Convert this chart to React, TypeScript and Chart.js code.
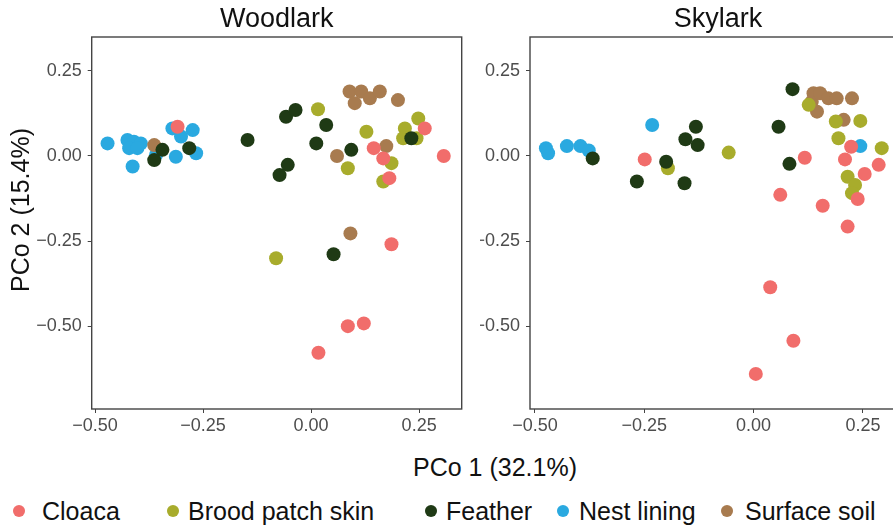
import React, { useEffect, useRef } from 'react';
import { Chart, registerables } from 'chart.js';

Chart.register(...registerables);

const FONT = "'Liberation Sans', Arial, Helvetica, sans-serif";

const groupNames = ['Cloaca', 'Brood patch skin', 'Feather', 'Nest lining', 'Surface soil'];
const groupColors = ['#F16D6B', '#A8AC2C', '#1F3A15', '#2AA9E0', '#A87B4F'];
const drawOrder = [0, 2, 1, 4, 3];

const xTickValues = [-0.5, -0.25, 0, 0.25];
const yTickValues = [0.25, 0, -0.25, -0.5];

const xAxisTitle = 'PCo 1 (32.1%)';
const yAxisTitle = 'PCo 2 (15.4%)';
const panelTitles = ['Woodlark', 'Skylark'];

// Woodlark
const woodlarkCloacaX = [-0.309, 0.263, 0.307, 0.145, 0.167, 0.181, 0.186, 0.085, 0.122, 0.017];
const woodlarkCloacaY = [0.086, 0.081, 0.0, 0.023, -0.007, -0.065, -0.259, -0.499, -0.491, -0.577];
const woodlarkBroodX = [0.016, 0.128, 0.085, 0.217, 0.248, 0.213, 0.244, 0.186, 0.167, -0.081];
const woodlarkBroodY = [0.137, 0.071, -0.036, 0.081, 0.11, 0.052, 0.052, -0.021, -0.075, -0.3];
const woodlarkFeatherX = [-0.344, -0.363, -0.282, -0.147, -0.058, -0.036, 0.035, 0.012, -0.054, -0.073, 0.093, 0.232, 0.052];
const woodlarkFeatherY = [0.018, -0.012, 0.023, 0.047, 0.115, 0.135, 0.091, 0.037, -0.026, -0.056, 0.018, 0.052, -0.288];
const woodlarkNestX = [-0.471, -0.425, -0.41, -0.394, -0.421, -0.402, -0.413, -0.359, -0.313, -0.321, -0.301, -0.274, -0.266];
const woodlarkNestY = [0.037, 0.047, 0.042, 0.037, 0.023, 0.023, -0.031, 0.003, -0.002, 0.081, 0.057, 0.076, 0.008];
const woodlarkSoilX = [-0.363, 0.089, 0.116, 0.136, 0.159, 0.101, 0.201, 0.174, 0.06, 0.091];
const woodlarkSoilY = [0.032, 0.189, 0.189, 0.169, 0.189, 0.155, 0.164, 0.029, 0.0, -0.227];

// Skylark
const skylarkCloacaX = [-0.249, 0.117, 0.061, 0.158, 0.209, 0.223, 0.254, 0.286, 0.238, 0.215, 0.038, 0.091, 0.005];
const skylarkCloacaY = [-0.01, -0.005, -0.114, -0.146, -0.01, 0.027, -0.053, -0.026, -0.126, -0.207, -0.385, -0.542, -0.639];
const skylarkBroodX = [-0.196, -0.057, 0.126, 0.188, 0.244, 0.194, 0.293, 0.215, 0.232, 0.225];
const skylarkBroodY = [-0.036, 0.01, 0.15, 0.101, 0.103, 0.052, 0.023, -0.061, -0.085, -0.109];
const skylarkFeatherX = [-0.368, -0.267, -0.2, -0.158, -0.156, -0.132, -0.128, 0.057, 0.089, 0.082];
const skylarkFeatherY = [-0.007, -0.075, -0.017, -0.08, 0.049, 0.086, 0.032, 0.086, 0.196, -0.023];
const skylarkNestX = [-0.475, -0.47, -0.427, -0.396, -0.377, -0.232, 0.244];
const skylarkNestY = [0.023, 0.008, 0.029, 0.029, 0.016, 0.091, 0.029];
const skylarkSoilX = [0.133, 0.137, 0.152, 0.171, 0.19, 0.225, 0.145, 0.206];
const skylarkSoilY = [0.159, 0.184, 0.184, 0.169, 0.169, 0.169, 0.13, 0.106];

const woodlarkX = [woodlarkCloacaX, woodlarkBroodX, woodlarkFeatherX, woodlarkNestX, woodlarkSoilX];
const woodlarkY = [woodlarkCloacaY, woodlarkBroodY, woodlarkFeatherY, woodlarkNestY, woodlarkSoilY];
const skylarkX = [skylarkCloacaX, skylarkBroodX, skylarkFeatherX, skylarkNestX, skylarkSoilX];
const skylarkY = [skylarkCloacaY, skylarkBroodY, skylarkFeatherY, skylarkNestY, skylarkSoilY];

const fmt = (v: number) => {
  const s = Math.abs(v).toFixed(2);
  return v < -1e-9 ? '\u2212' + s : s;
};

const framePlugin = {
  id: 'panelFrame',
  afterDatasetsDraw(chart: any) {
    const { ctx, chartArea } = chart;
    ctx.save();
    ctx.strokeStyle = '#444444';
    ctx.lineWidth = 1.4;
    ctx.strokeRect(chartArea.left, chartArea.top, chartArea.right - chartArea.left, chartArea.bottom - chartArea.top);
    ctx.restore();
  },
};

const panelTextPlugin = {
  id: 'panelText',
  afterDraw(chart: any, _args: any, opts: any) {
    const { ctx, chartArea } = chart;
    ctx.save();
    ctx.font = `27px ${FONT}`;
    ctx.fillStyle = '#111111';
    ctx.textAlign = 'center';
    ctx.textBaseline = 'middle';
    ctx.fillText(opts.text, (chartArea.left + chartArea.right) / 2, 20);
    if (opts.yTitle) {
      ctx.font = `25px ${FONT}`;
      ctx.translate(22, 210);
      ctx.rotate(-Math.PI / 2);
      ctx.fillText(opts.yTitle, 0, 0);
    }
    ctx.restore();
  },
};

function buildConfig(
  title: string,
  xs: number[][],
  ys: number[][],
  yWidth: number,
  padRight: number,
  showYTitle: boolean,
  xMin: number,
  xMax: number
) {
  const datasets = groupNames.map((name, g) => ({
    label: name,
    data: xs[g].map((x, i) => ({ x, y: ys[g][i] })),
    backgroundColor: groupColors[g],
    borderWidth: 0,
    pointRadius: 7,
    pointHoverRadius: 7,
    order: drawOrder[g],
  }));
  return {
    type: 'scatter' as const,
    data: { datasets },
    plugins: [framePlugin, panelTextPlugin],
    options: {
      animation: false,
      responsive: false,
      devicePixelRatio: 1,
      events: [],
      layout: { padding: { top: 37, right: padRight, bottom: 0, left: 0 } },
      plugins: {
        legend: { display: false },
        tooltip: { enabled: false },
        title: { display: false },
        panelText: { text: title, yTitle: showYTitle ? yAxisTitle : '' },
      },
      scales: {
        x: {
          type: 'linear',
          min: xMin,
          max: xMax,
          afterBuildTicks: (s: any) => {
            s.ticks = xTickValues.map((v) => ({ value: v }));
          },
          afterFit: (s: any) => {
            s.height = 36;
          },
          ticks: {
            callback: (v: any) => fmt(Number(v)),
            font: { family: FONT, size: 18 },
            color: '#4D4D4D',
            padding: 2,
            maxRotation: 0,
            autoSkip: false,
          },
          grid: { drawOnChartArea: false, drawTicks: true, tickLength: 4, tickColor: '#444444', lineWidth: 1 },
          border: { display: false },
        },
        y: {
          type: 'linear',
          min: -0.742,
          max: 0.349,
          afterBuildTicks: (s: any) => {
            s.ticks = yTickValues.map((v) => ({ value: v }));
          },
          afterFit: (s: any) => {
            s.width = yWidth;
          },
          ticks: {
            callback: (v: any) => fmt(Number(v)),
            font: { family: FONT, size: 18 },
            color: '#4D4D4D',
            padding: 6,
            autoSkip: false,
          },
          grid: { drawOnChartArea: false, drawTicks: true, tickLength: 4, tickColor: '#444444', lineWidth: 1 },
          border: { display: false },
        },
      },
    },
  };
}

const legendPositions = [
  { dot: 19, text: 42 },
  { dot: 173, text: 188 },
  { dot: 431, text: 446 },
  { dot: 563, text: 579 },
  { dot: 727, text: 745 },
];

export default function App() {
  const leftRef = useRef<HTMLCanvasElement | null>(null);
  const rightRef = useRef<HTMLCanvasElement | null>(null);

  useEffect(() => {
    const charts: Chart[] = [];
    if (leftRef.current) {
      charts.push(
        new Chart(leftRef.current, buildConfig(panelTitles[0], woodlarkX, woodlarkY, 91.7, 18.3, true, -0.5077, 0.3485) as any)
      );
    }
    if (rightRef.current) {
      charts.push(
        new Chart(rightRef.current, buildConfig(panelTitles[1], skylarkX, skylarkY, 50, 14, false, -0.5114, 0.3485) as any)
      );
    }
    return () => charts.forEach((c) => c.destroy());
  }, []);

  return (
    <div
      style={{
        position: 'fixed',
        left: 0,
        top: 0,
        width: 893,
        height: 526,
        overflow: 'hidden',
        background: '#ffffff',
        fontFamily: FONT,
      }}
    >
      <canvas ref={leftRef} width={480} height={445} style={{ position: 'absolute', left: 0, top: 0, width: 480, height: 445 }} />
      <canvas ref={rightRef} width={440} height={445} style={{ position: 'absolute', left: 480, top: 0, width: 440, height: 445 }} />
      <div
        style={{
          position: 'absolute',
          left: 0,
          top: 452,
          width: 990,
          textAlign: 'center',
          fontSize: 25,
          lineHeight: '30px',
          color: '#111111',
        }}
      >
        {xAxisTitle}
      </div>
      {groupNames.map((name, g) => (
        <div key={name}>
          <div
            style={{
              position: 'absolute',
              left: legendPositions[g].dot - 6,
              top: 505,
              width: 12,
              height: 12,
              borderRadius: 6,
              background: groupColors[g],
            }}
          />
          <div
            style={{
              position: 'absolute',
              left: legendPositions[g].text,
              top: 496,
              fontSize: 25,
              lineHeight: '30px',
              color: '#111111',
              whiteSpace: 'nowrap',
            }}
          >
            {name}
          </div>
        </div>
      ))}
    </div>
  );
}
